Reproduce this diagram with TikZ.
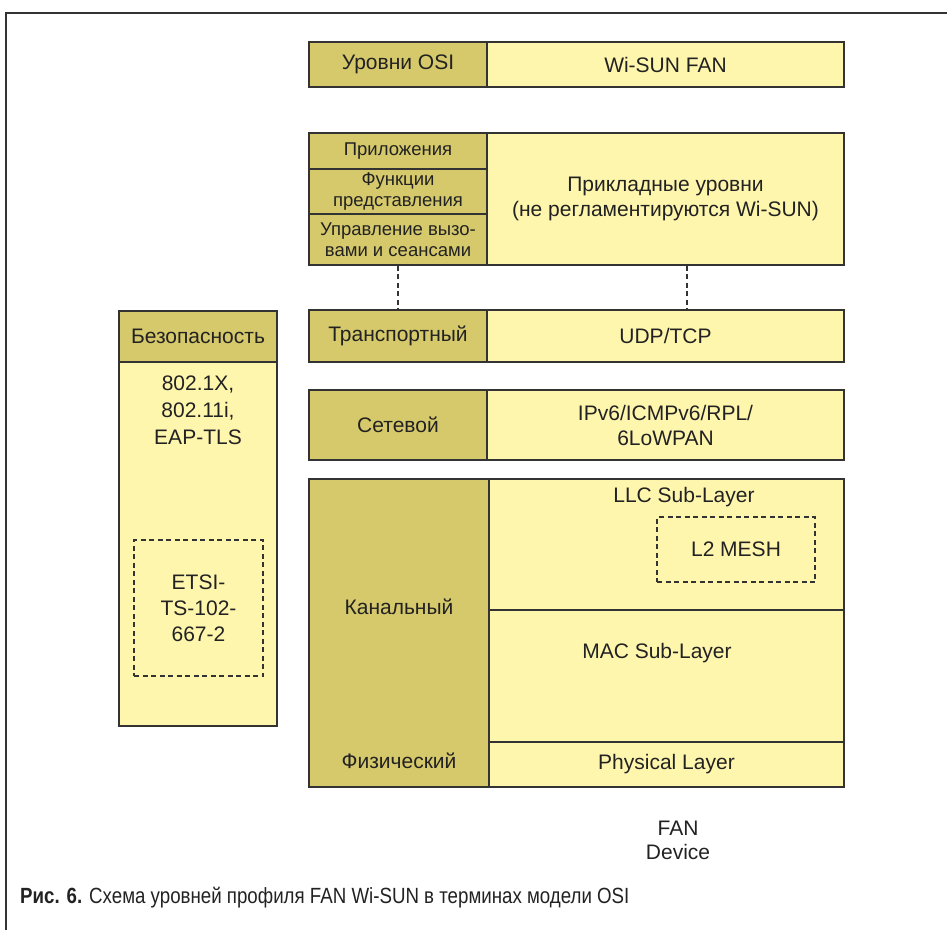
\documentclass[tikz,border=0pt]{standalone}
\usepackage{fontspec}
\setmainfont{Liberation Sans}
\newfontfamily\capfont{Liberation Sans}[FakeStretch=0.85]
\definecolor{darkfill}{HTML}{D6C96B}
\definecolor{lightfill}{HTML}{FFF6AE}
\definecolor{edge}{HTML}{333333}
\definecolor{txt}{HTML}{222222}
\begin{document}
\begin{tikzpicture}[x=1pt,y=-1pt,
  box/.style={draw=edge, line width=1.5pt, inner sep=0pt, text=txt, align=center, font=\fontsize{21}{25}\selectfont},
  dk/.style={box, fill=darkfill},
  lt/.style={box, fill=lightfill},
  small/.style={font=\fontsize{18.5}{20.5}\selectfont},
  dbox/.style={draw=edge, line width=1.2pt, dash pattern=on 5pt off 3.5pt, inner sep=0pt, text=txt, align=center, font=\fontsize{21}{26}\selectfont},
  lbl/.style={text=txt, align=center, font=\fontsize{21}{27}\selectfont, inner sep=0pt}]
\useasboundingbox (0,0) rectangle (947,930);
\draw[edge, line width=1.4pt] (6,930) -- (6,13) -- (947,13);
% header
\node[dk, minimum width=178pt, minimum height=45pt] (osi) at (398,64.5) {Уровни OSI};
\node[lt, minimum width=357pt, minimum height=45pt] (wisun) at (665.5,64.5) {Wi-SUN FAN};
% application layers
\node[lt, minimum width=357pt, minimum height=132pt] (appR) at (665.5,199) {Прикладные уровни\\(не регламентируются Wi-SUN)};
\node[dk, small, minimum width=178pt, minimum height=36pt] (app1) at (398,151) {Приложения};
\node[dk, small, minimum width=178pt, minimum height=45pt] (app2) at (398,191.5) {Функции\\представления};
\node[dk, small, minimum width=178pt, minimum height=51pt] (app3) at (398,239.5) {Управление вызо-\\вами и сеансами};
% transport
\node[dk, minimum width=178pt, minimum height=52pt] (trans) at (398,336) {Транспортный};
\node[lt, minimum width=357pt, minimum height=52pt] (udp) at (665.5,336) {UDP/TCP};
\draw[edge, line width=1.2pt, dash pattern=on 5pt off 3.5pt] (app3.south) -- (trans.north);
\draw[edge, line width=1.2pt, dash pattern=on 5pt off 3.5pt] (appR.south -| 687,0) -- (udp.north -| 687,0);
% network
\node[dk, minimum width=178pt, minimum height=70pt] (net) at (398,425) {Сетевой};
\node[lt, minimum width=357pt, minimum height=70pt] (ipv6) at (665.5,425) {IPv6/ICMPv6/RPL/\\6LoWPAN};
% link + physical
\node[dk, minimum width=180pt, minimum height=308pt] (link) at (399,633) {};
\node[lbl] (kanal) at (399,607) {Канальный};
\node[lbl] (fiz) at (399,761) {Физический};
\node[lt, minimum width=355pt, minimum height=131pt] (llc) at (666.5,544.5) {};
\node[lbl] (llct) at (684,497) {LLC Sub-Layer};
\node[lt, minimum width=355pt, minimum height=132pt] (mac) at (666.5,676) {};
\node[lbl] (mact) at (657,653) {MAC Sub-Layer};
\node[lt, minimum width=355pt, minimum height=45pt] (phys) at (666.5,764.5) {Physical Layer};
\node[dbox, minimum width=158pt, minimum height=65pt] (mesh) at (736,549.5) {L2 MESH};
% security
\node[dk, minimum width=158pt, minimum height=51pt] (sec) at (198,336.5) {Безопасность};
\node[lt, minimum width=158pt, minimum height=364pt] (secb) at (198,544) {};
\node[lbl] (sect) at (198,410) {802.1X,\\802.11i,\\EAP-TLS};
\node[dbox, minimum width=129pt, minimum height=136pt] (etsi) at (198.5,608) {ETSI-\\TS-102-\\667-2};
% device label
\node[lbl, font=\fontsize{21}{24}\selectfont] (dev) at (678,840) {FAN\\Device};
% caption
\node[anchor=west, inner sep=0pt, text=txt, font=\capfont\fontsize{22}{24}\selectfont] (cap) at (20,898) {\textbf{Рис. 6.} Схема уровней профиля FAN Wi-SUN в терминах модели OSI};
\end{tikzpicture}
\end{document}
